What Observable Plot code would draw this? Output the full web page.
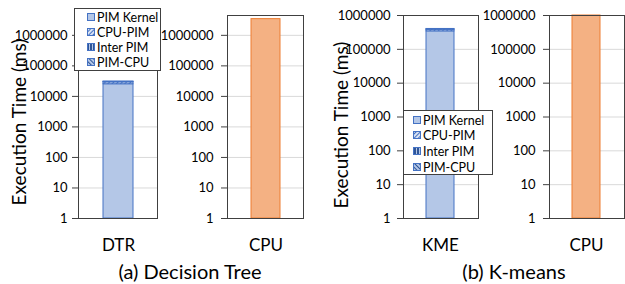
<!DOCTYPE html>
<html><head><meta charset="utf-8">
<script src="https://cdn.jsdelivr.net/npm/d3@7"></script>
<script src="https://cdn.jsdelivr.net/npm/@observablehq/plot@0.6"></script>
<style>
body{margin:0;background:#fff;font-family:Lato,sans-serif}
#chart{position:relative;width:625px;height:284px;overflow:hidden;background:#fff}
.txt{position:absolute;white-space:nowrap;color:#000;font-family:Lato,sans-serif;transform:translate(-50%,-50%);line-height:1}
</style></head>
<body>
<svg width="0" height="0" style="position:absolute">
  <defs>
    <pattern id="pCpuPim" width="3" height="3" patternUnits="userSpaceOnUse" patternTransform="rotate(45)">
      <rect width="3" height="3" fill="#dae3f3"/><rect width="1" height="3" fill="#4472c4"/>
    </pattern>
    <pattern id="pInter" width="3" height="3" patternUnits="userSpaceOnUse">
      <rect width="3" height="3" fill="#b4c7e7"/><rect width="2" height="3" fill="#2f5597"/>
    </pattern>
    <pattern id="pPimCpu" width="3" height="3" patternUnits="userSpaceOnUse" patternTransform="rotate(-45)">
      <rect width="3" height="3" fill="#b4c7e7"/><rect width="1" height="3" fill="#2f5597"/>
    </pattern>
  </defs>
</svg>
<div id="chart"></div>
<script>
// ---- data ----
const segments = ["PIM Kernel", "CPU-PIM", "Inter PIM", "PIM-CPU"];
const dtrSegmentValues = [25000, 4000, 300, 1500];
const kmeSegmentValues = [340000, 40000, 5000, 15000];
const cpuDecisionTree = 3400000;
const cpuKmeans = 1000000;
const categoriesA = ["DTR", "CPU"];
const categoriesB = ["KME", "CPU"];
const yTicks = [1, 10, 100, 1000, 10000, 100000, 1000000];
const captions = ["(a) Decision Tree", "(b) K-means"];
const yTitle = "Execution Time (ms)";

// ---- styles ----
const FONT = "Lato, sans-serif";
const H = 284;
const segFill = {"PIM Kernel": "#b4c7e7", "CPU-PIM": "url(#pCpuPim)", "Inter PIM": "url(#pInter)", "PIM-CPU": "url(#pPimCpu)", "CPU": "#f4b183"};
const segStroke = {"PIM Kernel": "#4472c4", "CPU-PIM": "#4472c4", "Inter PIM": "#4472c4", "PIM-CPU": "#4472c4", "CPU": "#ed7d31"};

function stackRows(cat, values) {
  let acc = 0;
  return values.map((v, i) => {
    const y1 = i === 0 ? 1 : acc;
    acc += v;
    return {cat, segment: segments[i], y1, y2: acc};
  });
}

const chart = document.getElementById("chart");

function panel(o) {
  const svg = Plot.plot({
    width: o.width, height: H,
    marginTop: o.top, marginBottom: H - o.bottom, marginLeft: o.ml, marginRight: o.mr,
    style: {fontFamily: FONT, fontSize: "13px", color: "#000", background: "transparent", overflow: "visible"},
    x: {type: "band", domain: [o.cat], padding: 0.45},
    y: {type: "log", domain: [1, o.max]},
    color: {type: "identity"},
    marks: [
      Plot.ruleY(yTicks.filter(t => t > 1 && t < o.max), {stroke: "#d9d9d9", strokeWidth: 1}),
      Plot.barY(o.rows, {x: "cat", y1: "y1", y2: "y2", fill: d => segFill[d.segment], stroke: d => segStroke[d.segment], strokeWidth: 1}),
      Plot.axisY({ticks: yTicks, tickFormat: d => String(d), tickSize: 6, tickPadding: o.tp, label: null, stroke: "#404040", fontSize: 13}),
      Plot.axisX({tickSize: 0, tickPadding: 20, fontSize: 17, label: null}),
      Plot.frame({stroke: "#404040"})
    ]
  });
  svg.style.position = "absolute";
  svg.style.left = o.left + "px";
  svg.style.top = "0px";
  chart.appendChild(svg);
}

panel({left: 0, width: 160, ml: 78, mr: 3, top: 15, bottom: 218, max: Math.pow(10, 6.65), tp: 5,
  cat: categoriesA[0], rows: stackRows(categoriesA[0], dtrSegmentValues)});
panel({left: 160, width: 145, ml: 67, mr: 2, top: 15, bottom: 218, max: Math.pow(10, 6.65), tp: 8,
  cat: categoriesA[1], rows: [{cat: categoriesA[1], segment: "CPU", y1: 1, y2: cpuDecisionTree}]});
panel({left: 320, width: 160, ml: 83, mr: 2, top: 15, bottom: 218, max: 1000000, tp: 7,
  cat: categoriesB[0], rows: stackRows(categoriesB[0], kmeSegmentValues)});
panel({left: 480, width: 145, ml: 69, mr: 1, top: 15, bottom: 218, max: 1000000, tp: 8,
  cat: categoriesB[1], rows: [{cat: categoriesB[1], segment: "CPU", y1: 1, y2: cpuKmeans}]});

// legends
function legend(x, y, w, h, rowY, swX) {
  const svg = d3.create("svg").attr("width", 625).attr("height", H)
    .style("position", "absolute").style("left", "0px").style("top", "0px").style("overflow", "visible");
  svg.append("rect").attr("x", x + 0.5).attr("y", y + 0.5).attr("width", w).attr("height", h)
    .attr("fill", "#fff").attr("stroke", "#404040");
  segments.forEach((s, i) => {
    const cy = rowY[i];
    svg.append("rect").attr("x", swX + 0.5).attr("y", cy - 3.5).attr("width", 7).attr("height", 7)
      .attr("fill", segFill[s]).attr("stroke", segStroke[s]);
    svg.append("text").attr("x", swX + 10).attr("y", cy).attr("dy", "0.36em")
      .attr("font-family", FONT).attr("font-size", 12.5).attr("fill", "#000").text(s);
  });
  chart.appendChild(svg.node());
}
legend(74, 8, 86, 62, [17, 32, 47, 62], 87);
legend(403, 110, 89, 64, [120, 135, 151, 167], 413);

// texts
function addText(str, x, y, size, rotate) {
  const d = document.createElement("div");
  d.className = "txt";
  d.textContent = str;
  d.style.left = x + "px";
  d.style.top = y + "px";
  d.style.fontSize = size + "px";
  if (rotate) d.style.transform = "translate(-50%,-50%) rotate(-90deg)";
  chart.appendChild(d);
}
addText(yTitle, 18, 122, 19, true);
addText(yTitle, 340, 125, 19, true);
addText(captions[0], 190, 271, 20);
addText(captions[1], 514, 271, 20);
</script>
</body></html>
